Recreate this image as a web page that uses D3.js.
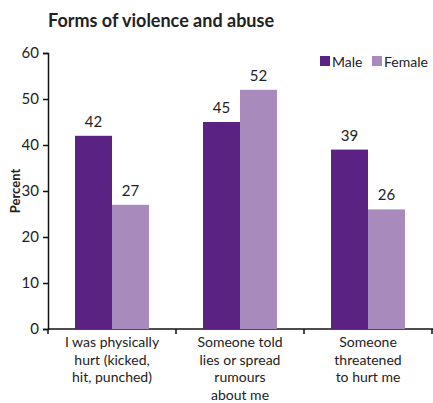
<!DOCTYPE html>
<html>
<head>
<meta charset="utf-8">
<script src="https://cdn.jsdelivr.net/npm/d3@7"></script>
<style>
  body { margin: 0; background: #fff; }
  text { font-family: Lato, "Noto Sans", sans-serif; fill: #222; }
</style>
</head>
<body>
<script>
const categories = [
  ['I was physically', 'hurt (kicked,', 'hit, punched)'],
  ['Someone told', 'lies or spread', 'rumours', 'about me'],
  ['Someone', 'threatened', 'to hurt me']
]
const series = ['Male', 'Female']
const male = [42, 45, 39]
const female = [27, 52, 26]
const yTicks = [0, 10, 20, 30, 40, 50, 60]
const colors = ['#5a2282', '#a98abd']

const width = 433
const height = 403
const margin = { top: 53, right: 0, bottom: 74, left: 48 }

const svg = d3.select('body').append('svg')
  .attr('width', width)
  .attr('height', height)

const g = svg.append('g')
  .attr('transform', `translate(${margin.left} ${margin.top})`)

const innerW = width - margin.left - margin.right
const innerH = height - margin.top - margin.bottom

const x0 = d3.scaleBand()
  .domain(d3.range(categories.length))
  .range([0, 384])
const x1 = d3.scaleBand()
  .domain(series)
  .range([0, x0.bandwidth()])
  .paddingOuter(0.73)
  .paddingInner(0)
const y = d3.scaleLinear()
  .domain([0, 60])
  .range([innerH, 0])

// axes
const yAxis = g.append('g')
  .call(d3.axisLeft(y).tickValues(yTicks).tickSize(5).tickPadding(4))
yAxis.select('.domain').attr('stroke', '#111').attr('stroke-width', 1.5)
yAxis.selectAll('.tick line').attr('stroke', '#111').attr('stroke-width', 1.5)
yAxis.selectAll('.tick text').style('font-size', '15px').attr('fill', '#222')

const xAxis = g.append('g')
  .attr('transform', `translate(0, ${innerH})`)
  .call(d3.axisBottom(x0).tickSize(0).tickFormat(''))
xAxis.select('.domain').attr('stroke', '#111').attr('stroke-width', 1.5)
  .attr('d', `M0,0H${innerW}`)
xAxis.selectAll('.sep')
  .data(d3.range(categories.length + 1))
  .enter().append('line')
  .attr('x1', i => i * x0.step())
  .attr('x2', i => i * x0.step())
  .attr('y1', 0)
  .attr('y2', 5)
  .attr('stroke', '#111')
  .attr('stroke-width', 1.5)

// bars
const groups = g.selectAll('.grp')
  .data(categories.map((c, i) => ({ i, values: [male[i], female[i]] })))
  .enter().append('g')
  .attr('transform', d => `translate(${x0(d.i)} 0)`)

groups.selectAll('rect')
  .data(d => d.values.map((v, k) => ({ v, k })))
  .enter().append('rect')
  .attr('x', d => x1(series[d.k]))
  .attr('width', x1.bandwidth())
  .attr('y', d => y(d.v))
  .attr('height', d => innerH - y(d.v))
  .attr('fill', d => colors[d.k])

groups.selectAll('.val')
  .data(d => d.values.map((v, k) => ({ v, k })))
  .enter().append('text')
  .attr('x', d => x1(series[d.k]) + x1.bandwidth() / 2)
  .attr('y', d => y(d.v) - 9)
  .attr('text-anchor', 'middle')
  .style('font-size', '15px')
  .text(d => d.v)

// category labels
g.selectAll('.cat')
  .data(categories)
  .enter().append('text')
  .attr('text-anchor', 'middle')
  .attr('transform', (d, i) => `translate(${x0(i) + x0.bandwidth() / 2} ${innerH + 18})`)
  .style('font-size', '14px')
  .selectAll('tspan')
  .data(d => d)
  .enter().append('tspan')
  .attr('x', 0)
  .attr('dy', (d, i) => i === 0 ? 0 : 17.5)
  .text(d => d)

// title
svg.append('text')
  .attr('x', 48)
  .attr('y', 27)
  .style('font-size', '18px')
  .style('font-weight', 'bold')
  .text('Forms of violence and abuse')

// y label
svg.append('text')
  .attr('transform', `translate(20 ${margin.top + innerH / 2}) rotate(-90)`)
  .attr('text-anchor', 'middle')
  .style('font-size', '13px')
  .style('font-weight', 'bold')
  .text('Percent')

// legend
const legend = svg.append('g')
  .attr('transform', 'translate(320 56)')
const items = legend.selectAll('g')
  .data(series)
  .enter().append('g')
  .attr('transform', (d, i) => `translate(${i * 52} 0)`)
items.append('rect')
  .attr('width', 10)
  .attr('height', 10)
  .attr('fill', (d, i) => colors[i])
items.append('text')
  .attr('x', 12)
  .attr('y', 10.5)
  .style('font-size', '14px')
  .text(d => d)
</script>
</body>
</html>
